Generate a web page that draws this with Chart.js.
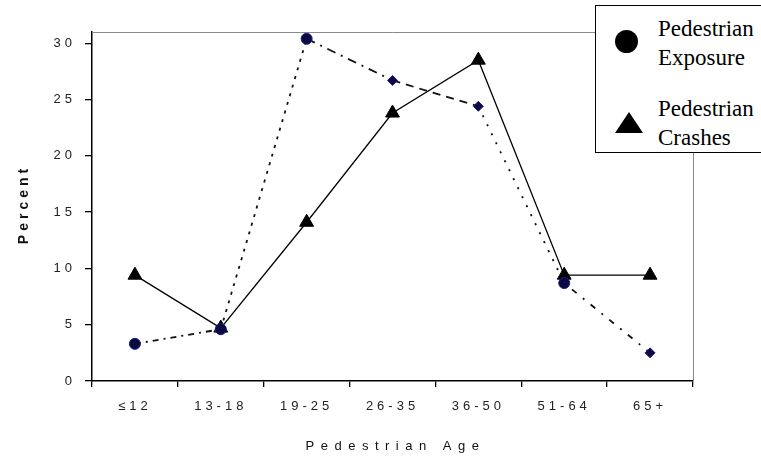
<!DOCTYPE html>
<html>
<head>
<meta charset="utf-8">
<script src="https://cdn.jsdelivr.net/npm/chart.js@4/dist/chart.umd.min.js"></script>
<style>
  html, body { margin: 0; padding: 0; background: #fff; }
  #wrap { position: relative; width: 761px; height: 462px; overflow: hidden; }
  #chart { position: absolute; left: 0; top: 0; }
  #legend {
    position: absolute; left: 595px; top: 5px; width: 200px; height: 148px;
    border: 1.5px solid #000; background: #fff; box-sizing: border-box;
    font-family: "Liberation Serif", "Times New Roman", serif; font-size: 23px; line-height: 29px; color: #000;
  }
  #legend .txt { position: absolute; left: 62px; white-space: nowrap; }
  #legend .dot { position: absolute; left: 19px; top: 24px; width: 23px; height: 23px; border-radius: 50%; background: #000; }
  #legend .tri { position: absolute; left: 19px; top: 106px; width: 0; height: 0;
    border-left: 14px solid transparent; border-right: 14px solid transparent; border-bottom: 21px solid #000; }
</style>
</head>
<body>
<div id="wrap">
  <canvas id="chart" width="761" height="462"></canvas>
  <div id="legend">
    <div class="dot"></div>
    <div class="txt" style="top:8px">Pedestrian<br>Exposure</div>
    <div class="tri"></div>
    <div class="txt" style="top:88px">Pedestrian<br>Crashes</div>
  </div>
</div>
<script>
// ---- data ----
const categories = ['≤12', '13-18', '19-25', '26-35', '36-50', '51-64', '65+'];
const exposure   = [3.3, 4.6, 30.4, 26.7, 24.4, 8.7, 2.5];
const crashes    = [9.4, 4.7, 14.1, 23.8, 28.5, 9.4, 9.4];
const yTicks     = [0, 5, 10, 15, 20, 25, 30];
const xTitle = 'Pedestrian Age';
const yTitle = 'Percent';

// per-segment dash patterns of the exposure line
const exposureDashes = [[6, 5, 2, 5], [3, 6], [9, 6, 2, 6], [8, 6], [2, 8], [2, 8, 6, 8]];

const decor = {
  id: 'decor',
  beforeDraw(chart) {
    chart.ctx.letterSpacing = '4px';
  },
  beforeDatasetsDraw(chart) {
    const { ctx, chartArea: a } = chart;
    ctx.save();
    ctx.strokeStyle = '#8a8a8a';
    ctx.lineWidth = 1;
    ctx.beginPath();
    ctx.moveTo(a.left, Math.round(a.top) + 0.5);
    ctx.lineTo(Math.round(a.right) + 0.5, Math.round(a.top) + 0.5);
    ctx.lineTo(Math.round(a.right) + 0.5, a.bottom);
    ctx.stroke();
    ctx.restore();
  },
  afterDraw(chart) {
    const { ctx, chartArea: a } = chart;
    ctx.save();
    ctx.fillStyle = '#111';
    ctx.textAlign = 'center';
    ctx.textBaseline = 'middle';
    ctx.font = '13px "Liberation Sans", Arial, sans-serif';
    ctx.letterSpacing = '6.5px';
    ctx.fillText(xTitle, (a.left + a.right) / 2 + 3, 446);
    ctx.translate(24, (a.top + a.bottom) / 2);
    ctx.rotate(-Math.PI / 2);
    ctx.font = 'bold 14px "Liberation Sans", Arial, sans-serif';
    ctx.letterSpacing = '4px';
    ctx.fillText(yTitle, 2, 0);
    ctx.restore();
  }
};

Chart.defaults.font.family = '"Liberation Sans", Arial, sans-serif';
Chart.defaults.color = '#222';

new Chart(document.getElementById('chart'), {
  type: 'line',
  data: {
    labels: categories,
    datasets: [
      {
        label: 'Pedestrian Exposure',
        data: exposure,
        borderColor: '#111',
        borderWidth: 1.8,
        fill: false,
        tension: 0,
        pointStyle: ['circle', 'circle', 'circle', 'rectRot', 'rectRot', 'circle', 'rectRot'],
        pointRadius: [5.5, 5.5, 5.5, 5, 5, 5.5, 5],
        pointBackgroundColor: '#0a0a40',
        pointBorderColor: '#1c1c8a',
        pointBorderWidth: 1,
        segment: { borderDash: ctx => exposureDashes[ctx.p0DataIndex] }
      },
      {
        label: 'Pedestrian Crashes',
        data: crashes,
        borderColor: '#000',
        borderWidth: 1.3,
        fill: false,
        tension: 0,
        pointStyle: 'triangle',
        pointRadius: 8,
        pointBackgroundColor: '#000',
        pointBorderColor: '#000',
        pointBorderWidth: 1
      }
    ]
  },
  options: {
    responsive: false,
    animation: false,
    layout: { padding: { top: 32, right: 68, left: 0, bottom: 0 } },
    plugins: { legend: { display: false }, tooltip: { enabled: false } },
    scales: {
      x: {
        type: 'category',
        offset: true,
        grid: { display: true, drawOnChartArea: false, drawTicks: true, tickLength: 6, color: '#000', offset: true, lineWidth: 1.3 },
        border: { display: true, color: '#000', width: 1.5 },
        ticks: { padding: 12, font: { size: 13 }, color: '#222', maxRotation: 0, autoSkip: false },
        afterFit(scale) { scale.height = 81; }
      },
      y: {
        min: 0,
        max: 31,
        grid: { display: true, drawOnChartArea: false, drawTicks: true, tickLength: 7, color: '#000', lineWidth: 1.3 },
        border: { display: true, color: '#000', width: 1.5 },
        afterBuildTicks(scale) { scale.ticks = yTicks.map(v => ({ value: v })); },
        ticks: { padding: 9, font: { size: 13 }, color: '#222' },
        afterFit(scale) { scale.width = 92; }
      }
    }
  },
  plugins: [decor]
});
</script>
</body>
</html>
